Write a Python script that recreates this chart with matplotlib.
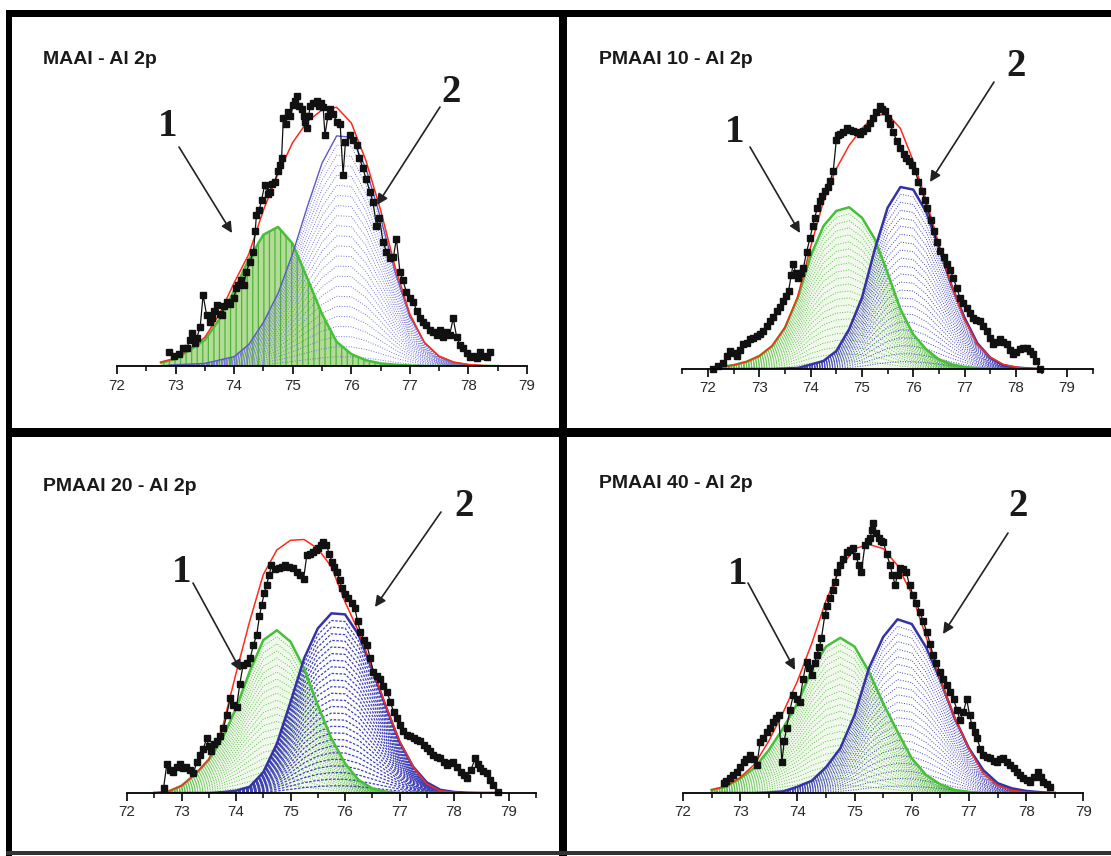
import numpy as np
import matplotlib
matplotlib.use("Agg")
import matplotlib.pyplot as plt
from matplotlib.patches import Rectangle

W, H = 1111, 856

# ---- fit components (normalised intensity) ----
fitE1 = np.arange(72.75, 78.51, 0.25)
green1 = [0.013, 0.027, 0.062, 0.10, 0.18, 0.29, 0.41, 0.505, 0.535, 0.47, 0.337, 0.20,
          0.093, 0.046, 0.022, 0.01, 0.005, 0.002, 0, 0, 0, 0, 0, 0]
blue1 = [0, 0.005, 0.007, 0.01, 0.023, 0.036, 0.083, 0.168, 0.28, 0.433, 0.613, 0.78,
         0.885, 0.88, 0.76, 0.57, 0.36, 0.19, 0.09, 0.036, 0.014, 0.005, 0, 0]
env1 = [0.015, 0.03, 0.068, 0.11, 0.20, 0.32, 0.43, 0.60, 0.74, 0.86, 0.94, 0.985,
        0.995, 0.935, 0.79, 0.60, 0.38, 0.20, 0.09, 0.038, 0.015, 0.006, 0.002, 0]

fitE2 = np.arange(72.25, 78.51, 0.25)
green2 = [0.008, 0.015, 0.028, 0.05, 0.088, 0.159, 0.274, 0.435, 0.55, 0.608, 0.622, 0.582,
          0.50, 0.37, 0.23, 0.133, 0.076, 0.037, 0.018, 0.008, 0.003, 0, 0, 0, 0, 0]
blue2 = [0, 0, 0, 0, 0, 0.002, 0.004, 0.017, 0.031, 0.069, 0.153, 0.274, 0.46,
         0.62, 0.70, 0.69, 0.605, 0.467, 0.319, 0.197, 0.099, 0.044, 0.015, 0.006, 0.002, 0]
env2 = [0.008, 0.015, 0.028, 0.05, 0.09, 0.16, 0.28, 0.47, 0.645, 0.77, 0.86, 0.925, 0.975,
        0.98, 0.925, 0.80, 0.65, 0.48, 0.32, 0.19, 0.095, 0.045, 0.018, 0.007, 0.002, 0]

fitE3 = np.arange(72.5, 78.76, 0.25)
green3 = [0.0, 0.005, 0.028, 0.072, 0.127, 0.21, 0.326, 0.467, 0.588, 0.626, 0.582, 0.479,
          0.338, 0.21, 0.114, 0.05, 0.018, 0.005, 0, 0, 0, 0, 0, 0, 0, 0]
blue3 = [0, 0, 0, 0, 0, 0.003, 0.009, 0.024, 0.08, 0.19, 0.35, 0.518, 0.633,
         0.691, 0.687, 0.608, 0.473, 0.332, 0.197, 0.101, 0.041, 0.012, 0.004, 0.001, 0, 0]
env3 = [0.0, 0.005, 0.028, 0.072, 0.13, 0.25, 0.46, 0.66, 0.84, 0.935, 0.972, 0.975, 0.94,
        0.87, 0.735, 0.62, 0.48, 0.335, 0.20, 0.10, 0.035, 0.008, 0.003, 0, 0, 0]

fitE4 = np.arange(72.5, 78.51, 0.25)
green4 = [0.012, 0.024, 0.056, 0.097, 0.165, 0.249, 0.345, 0.473, 0.563, 0.597, 0.563, 0.467,
          0.345, 0.236, 0.133, 0.069, 0.033, 0.012, 0.004, 0, 0, 0, 0, 0, 0]
blue4 = [0, 0, 0, 0, 0.002, 0.006, 0.024, 0.047, 0.099, 0.172, 0.30, 0.48, 0.60,
         0.668, 0.65, 0.56, 0.434, 0.288, 0.172, 0.088, 0.038, 0.018, 0.008, 0.003, 0]
env4 = [0.012, 0.026, 0.06, 0.11, 0.20, 0.31, 0.43, 0.575, 0.74, 0.865, 0.94, 0.956, 0.94,
        0.875, 0.765, 0.60, 0.435, 0.29, 0.17, 0.075, 0.03, 0.01, 0.004, 0.001, 0]

# ---- measured spectra ----
dataE1 = [72.88, 72.97, 73.06, 73.13, 73.19, 73.24, 73.28, 73.33, 73.36, 73.42, 73.47, 73.53,
          73.58, 73.62, 73.66, 73.70, 73.75, 73.79, 73.83, 73.87, 73.93, 73.99, 74.04, 74.07,
          74.12, 74.16, 74.21, 74.27, 74.33, 74.36, 74.38, 74.43, 74.47, 74.52, 74.57, 74.61,
          74.65, 74.69, 74.75, 74.78, 74.81, 74.84, 74.88, 74.92, 74.96, 75.01, 75.04, 75.07,
          75.11, 75.15, 75.19, 75.21, 75.24, 75.27, 75.30, 75.35, 75.41, 75.45, 75.49, 75.52,
          75.55, 75.60, 75.64, 75.69, 75.75, 75.81, 75.86, 75.90, 75.97, 76.03, 76.09, 76.14,
          76.20, 76.25, 76.32, 76.37, 76.43, 76.48, 76.54, 76.60, 76.66, 76.72, 76.77, 76.83,
          76.88, 76.94, 77.00, 77.06, 77.12, 77.17, 77.23, 77.28, 77.34, 77.40, 77.46, 77.51,
          77.57, 77.62, 77.68, 77.74, 77.80, 77.86, 77.91, 77.97, 78.02, 78.08, 78.14, 78.19,
          78.25, 78.31, 78.37]
dataI1 = [0.055, 0.04, 0.045, 0.07, 0.068, 0.10, 0.126, 0.09, 0.107, 0.15, 0.273, 0.196,
          0.17, 0.183, 0.21, 0.235, 0.20, 0.196, 0.23, 0.247, 0.24, 0.26, 0.30, 0.31,
          0.33, 0.31, 0.363, 0.40, 0.44, 0.52, 0.58, 0.60, 0.64, 0.696, 0.66, 0.67,
          0.70, 0.709, 0.75, 0.773, 0.80, 0.953, 0.93, 0.978, 0.96, 1.004, 1.02, 1.04,
          1.00, 0.99, 0.96, 0.94, 0.914, 0.96, 1.0, 1.01, 1.02, 1.00, 1.01, 0.995,
          0.888, 0.96, 0.99, 0.97, 0.94, 0.93, 0.735, 0.86, 0.888, 0.87, 0.85, 0.80,
          0.76, 0.72, 0.67, 0.63, 0.54, 0.57, 0.478, 0.44, 0.414, 0.42, 0.49, 0.363,
          0.33, 0.286, 0.26, 0.247, 0.21, 0.183, 0.17, 0.158, 0.14, 0.132, 0.12, 0.14,
          0.11, 0.13, 0.12, 0.183, 0.11, 0.08, 0.068, 0.05, 0.035, 0.04, 0.03, 0.055,
          0.04, 0.035, 0.055]

dataE2 = [72.10, 72.20, 72.30, 72.37, 72.43, 72.50, 72.56, 72.62, 72.69, 72.75, 72.82, 72.88,
          72.95, 73.01, 73.08, 73.14, 73.21, 73.27, 73.34, 73.40, 73.47, 73.52, 73.57, 73.62,
          73.66, 73.71, 73.76, 73.81, 73.86, 73.92, 73.99, 74.04, 74.08, 74.13, 74.18, 74.23,
          74.28, 74.33, 74.38, 74.44, 74.50, 74.53, 74.57, 74.63, 74.70, 74.76, 74.83, 74.90,
          74.96, 75.02, 75.09, 75.15, 75.22, 75.28, 75.35, 75.40, 75.45, 75.50, 75.55, 75.61,
          75.68, 75.74, 75.81, 75.86, 75.91, 75.98, 76.04, 76.10, 76.17, 76.22, 76.27, 76.34,
          76.40, 76.46, 76.53, 76.59, 76.66, 76.72, 76.78, 76.85, 76.91, 76.97, 77.04, 77.10,
          77.17, 77.23, 77.30, 77.36, 77.43, 77.49, 77.56, 77.62, 77.69, 77.75, 77.82, 77.88,
          77.95, 78.01, 78.08, 78.14, 78.21, 78.27, 78.34, 78.40, 78.47]
dataI2 = [0.0, 0.01, 0.024, 0.05, 0.069, 0.06, 0.05, 0.075, 0.095, 0.10, 0.114, 0.12,
          0.127, 0.135, 0.146, 0.165, 0.185, 0.20, 0.223, 0.24, 0.262, 0.28, 0.30, 0.36,
          0.403, 0.37, 0.35, 0.37, 0.39, 0.45, 0.505, 0.55, 0.582, 0.62, 0.646, 0.665,
          0.685, 0.70, 0.723, 0.76, 0.88, 0.90, 0.903, 0.91, 0.928, 0.92, 0.915, 0.91,
          0.903, 0.915, 0.928, 0.945, 0.967, 0.99, 1.012, 1.0, 0.992, 0.965, 0.941, 0.91,
          0.877, 0.85, 0.826, 0.81, 0.80, 0.785, 0.762, 0.72, 0.685, 0.65, 0.62, 0.575,
          0.531, 0.49, 0.454, 0.43, 0.403, 0.38, 0.351, 0.31, 0.274, 0.255, 0.236, 0.215,
          0.197, 0.19, 0.185, 0.165, 0.146, 0.12, 0.095, 0.105, 0.114, 0.105, 0.095, 0.075,
          0.056, 0.066, 0.076, 0.08, 0.082, 0.07, 0.056, 0.03, 0.0]

dataE3 = [72.67, 72.73, 72.79, 72.85, 72.91, 72.97, 73.03, 73.09, 73.15, 73.22, 73.28, 73.34,
          73.40, 73.46, 73.50, 73.55, 73.60, 73.65, 73.71, 73.77, 73.83, 73.89, 73.95, 74.01,
          74.07, 74.13, 74.20, 74.26, 74.32, 74.38, 74.43, 74.47, 74.52, 74.56, 74.61, 74.65,
          74.72, 74.78, 74.84, 74.90, 74.97, 75.05, 75.11, 75.17, 75.24, 75.30, 75.36, 75.42,
          75.47, 75.51, 75.56, 75.60, 75.66, 75.71, 75.76, 75.80, 75.85, 75.90, 75.94, 76.00,
          76.06, 76.12, 76.18, 76.23, 76.28, 76.34, 76.40, 76.46, 76.52, 76.58, 76.64, 76.70,
          76.77, 76.83, 76.89, 76.95, 77.01, 77.07, 77.13, 77.19, 77.26, 77.32, 77.38, 77.44,
          77.50, 77.56, 77.62, 77.69, 77.75, 77.81, 77.87, 77.93, 77.99, 78.06, 78.12, 78.18,
          78.24, 78.31, 78.39, 78.44, 78.48, 78.54, 78.60, 78.66, 78.72, 78.81]
dataI3 = [0.018, 0.11, 0.09, 0.08, 0.10, 0.11, 0.095, 0.10, 0.09, 0.076, 0.12, 0.146,
          0.17, 0.21, 0.18, 0.16, 0.19, 0.20, 0.22, 0.249, 0.30, 0.364, 0.34, 0.332,
          0.42, 0.492, 0.50, 0.518, 0.57, 0.608, 0.68, 0.723, 0.77, 0.80, 0.84, 0.877,
          0.86, 0.864, 0.87, 0.877, 0.87, 0.864, 0.85, 0.838, 0.825, 0.915, 0.92, 0.928,
          0.935, 0.941, 0.955, 0.967, 0.954, 0.92, 0.89, 0.87, 0.851, 0.82, 0.787, 0.765,
          0.749, 0.73, 0.71, 0.66, 0.62, 0.59, 0.569, 0.52, 0.467, 0.45, 0.44, 0.41,
          0.39, 0.35, 0.313, 0.29, 0.262, 0.24, 0.223, 0.22, 0.21, 0.205, 0.20, 0.185,
          0.172, 0.16, 0.146, 0.14, 0.133, 0.12, 0.108, 0.115, 0.12, 0.10, 0.082, 0.07,
          0.056, 0.09, 0.133, 0.11, 0.095, 0.085, 0.076, 0.05, 0.03, 0.005]

dataE4 = [72.71, 72.76, 72.82, 72.88, 72.94, 73.00, 73.06, 73.11, 73.17, 73.23, 73.29, 73.35,
          73.40, 73.46, 73.52, 73.58, 73.63, 73.67, 73.73, 73.77, 73.81, 73.87, 73.93, 73.99,
          74.04, 74.10, 74.16, 74.21, 74.25, 74.30, 74.34, 74.38, 74.42, 74.48, 74.52, 74.57,
          74.62, 74.66, 74.70, 74.74, 74.80, 74.86, 74.92, 74.98, 75.03, 75.07, 75.12, 75.18,
          75.23, 75.27, 75.30, 75.33, 75.37, 75.42, 75.46, 75.50, 75.56, 75.62, 75.66, 75.71,
          75.75, 75.79, 75.85, 75.90, 75.96, 76.02, 76.08, 76.14, 76.20, 76.26, 76.32, 76.37,
          76.43, 76.49, 76.55, 76.61, 76.67, 76.73, 76.79, 76.84, 76.90, 76.96, 77.01, 77.05,
          77.10, 77.14, 77.20, 77.25, 77.31, 77.37, 77.43, 77.49, 77.55, 77.60, 77.66, 77.72,
          77.78, 77.84, 77.90, 77.95, 78.01, 78.07, 78.14, 78.21, 78.26, 78.30, 78.36, 78.42]
dataI4 = [0.037, 0.045, 0.056, 0.07, 0.082, 0.10, 0.121, 0.13, 0.146, 0.13, 0.108, 0.197,
          0.21, 0.236, 0.25, 0.274, 0.29, 0.30, 0.121, 0.20, 0.249, 0.32, 0.377, 0.36,
          0.351, 0.44, 0.505, 0.48, 0.454, 0.50, 0.531, 0.56, 0.595, 0.685, 0.72, 0.749,
          0.78, 0.813, 0.85, 0.877, 0.90, 0.928, 0.935, 0.941, 0.91, 0.877, 0.851, 0.954,
          0.97, 0.979, 1.01, 1.04, 1.0, 0.979, 0.97, 0.967, 0.92, 0.877, 0.84, 0.80,
          0.84, 0.864, 0.86, 0.851, 0.80, 0.762, 0.73, 0.697, 0.66, 0.62, 0.575, 0.531,
          0.50, 0.467, 0.44, 0.415, 0.39, 0.36, 0.32, 0.282, 0.31, 0.36, 0.30, 0.262,
          0.235, 0.21, 0.17, 0.146, 0.14, 0.133, 0.125, 0.121, 0.13, 0.133, 0.12, 0.108,
          0.095, 0.082, 0.07, 0.056, 0.05, 0.043, 0.06, 0.082, 0.06, 0.043, 0.035, 0.024]

titles = ["MAAI - Al 2p", "PMAAI 10 - Al 2p", "PMAAI 20 - Al 2p", "PMAAI 40 - Al 2p"]
peak_labels = ["1", "2"]

# ---- layout (pixels) ----
# (left px, right px, baseline px, xmin, xmax)
frames = [(117, 527, 366, 72, 79),
          (682.4, 1092.8, 369, 71.5, 79.5),
          (127, 535.8, 793, 72, 79.5),
          (683, 1083.4, 793, 72, 79)]
title_pos = [(43, 60), (599, 60), (43, 486), (599, 483)]
lab_pos = [[(168, 127), (451, 93)], [(735, 132), (1016, 66)],
           [(182, 573), (464, 507)], [(738, 574), (1018, 506)]]
arrows = [[((179, 147), (232, 233)), ((440, 107), (377, 205))],
          [((750, 147), (800, 233)), ((994, 82), (930, 182))],
          [((193, 583), (241, 671)), ((441, 512), (375, 607))],
          [((748, 583), (795, 670)), ((1008, 533), (943, 634))]]

panels = [(fitE1, green1, blue1, env1, dataE1, dataI1),
          (fitE2, green2, blue2, env2, dataE2, dataI2),
          (fitE3, green3, blue3, env3, dataE3, dataI3),
          (fitE4, green4, blue4, env4, dataE4, dataI4)]

SCALE = 260.0   # px per unit intensity
YMAX = 1.2

plt.rcParams['hatch.linewidth'] = 0.9
fig = plt.figure(figsize=(W / 100, H / 100), dpi=100)
fig.patch.set_facecolor("white")

for i, (fe, g, b, env, de, di) in enumerate(panels):
    x0, x1, yb, xmin, xmax = frames[i]
    ax = fig.add_axes([x0 / W, 1 - yb / H, (x1 - x0) / W, YMAX * SCALE / H])
    ax.set_facecolor("none")
    g = np.array(g)
    b = np.array(b)

    # component 1 (green)
    if i == 0:
        ax.fill_between(fe, 0, g, facecolor="#b3dd96", edgecolor="#4fb43a", hatch="|||", lw=0)
    else:
        ax.fill_between(fe, 0, g, facecolor="#f1f9ec", lw=0)
        for k in np.linspace(0.05, 0.96, 22):
            ax.plot(fe, k * g, ls=(0, (1, 1.6)), lw=0.7, color="#5cc04a")
    # component 2 (blue)
    nb = 26 if i == 2 else 22
    bcol = "#7474d6" if i == 0 else "#3f3fb8"
    for k in np.linspace(0.04, 0.96, nb):
        ax.plot(fe, k * b, ls=(0, (1, 1.6)) if i != 2 else (0, (2, 1.2)),
                lw=0.7 if i != 2 else 0.9, color=bcol)

    ax.plot(fe, g, color="#45c038", lw=1.8, solid_joinstyle="round")
    ax.plot(fe, b, color="#5858c8" if i == 0 else "#3333a6", lw=1.0 if i == 0 else 1.8,
            solid_joinstyle="round")
    ax.plot(fe, env, color="#ff2a1a", lw=1.1, solid_joinstyle="round")
    ax.plot(de, di, color="#111111", lw=0.9, marker="s", ms=4.2, clip_on=False)

    ax.set_xlim(xmin, xmax)
    ax.set_ylim(0, YMAX)
    for s in ["left", "right", "top"]:
        ax.spines[s].set_visible(False)
    ax.spines["bottom"].set_linewidth(1.3)
    ax.set_yticks([])
    ax.set_xticks(range(72, 80))
    ax.set_xticks(np.arange(xmin, xmax + 0.01, 0.5), minor=True)
    ax.tick_params(axis="x", which="major", direction="out", length=6, width=1.2,
                   labelsize=11, pad=3, labelcolor="#2a2a2a")
    ax.tick_params(axis="x", which="minor", direction="out", length=3.5, width=1.1)
    for t in ax.get_xticklabels():
        t.set_family("Liberation Sans")

    tx, ty = title_pos[i]
    fig.text(tx / W, 1 - ty / H, titles[i], fontsize=14, fontweight="bold",
             family="Liberation Sans", color="#1a1a1a", ha="left", va="center")
    for lab, (lx, ly) in zip(peak_labels, lab_pos[i]):
        fig.text(lx / W, 1 - ly / H, lab, fontsize=28, fontweight="bold",
                 family="Liberation Serif", color="#1a1a1a", ha="center", va="center")
    for (sx, sy), (ex, ey) in arrows[i]:
        ax.annotate("", xy=(ex, H - ey), xytext=(sx, H - sy),
                    xycoords="figure pixels", textcoords="figure pixels",
                    annotation_clip=False,
                    arrowprops=dict(arrowstyle="-|>", lw=1.2, color="#222222",
                                    mutation_scale=16, shrinkA=0, shrinkB=0))

# panel frames
for (x, y, w, h, c) in [(6, 10, W - 6, 7, "black"), (6, 10, 6, H - 10, "black"),
                        (559, 10, 8, H - 10, "black"), (6, 428, W - 6, 9, "black"),
                        (6, 851, W - 6, 4, "#333333")]:
    fig.add_artist(Rectangle((x / W, 1 - (y + h) / H), w / W, h / H,
                             transform=fig.transFigure, facecolor=c, edgecolor="none"))

plt.savefig("out.png", dpi=100)
